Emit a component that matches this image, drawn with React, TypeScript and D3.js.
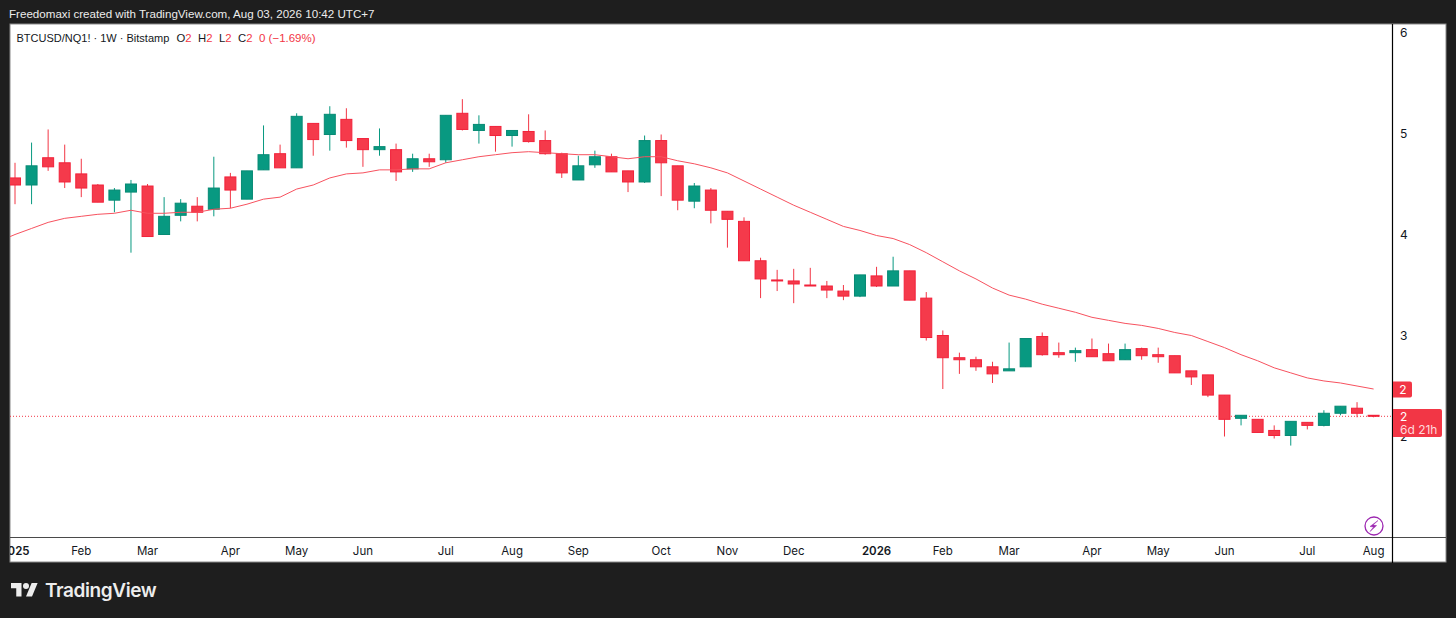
import { useEffect, useRef } from 'react'
import * as d3 from 'd3'

const width = 1456
const height = 618

// weekly candles, BTCUSD/NQ1!
const opens = [4.56, 4.49, 4.76, 4.71, 4.6, 4.49, 4.34, 4.42, 4.48, 4.0, 4.19, 4.28, 4.25, 4.57, 4.35, 4.64, 4.8, 4.66, 5.1, 4.99, 5.14, 4.95, 4.84, 4.84, 4.65, 4.75, 4.74, 5.2, 5.03, 5.07, 4.98, 5.02, 4.93, 4.8, 4.54, 4.69, 4.77, 4.63, 4.52, 4.93, 4.68, 4.33, 4.44, 4.23, 4.13, 3.74, 3.55, 3.54, 3.5, 3.49, 3.44, 3.39, 3.59, 3.49, 3.64, 3.37, 3.0, 2.78, 2.76, 2.69, 2.65, 2.69, 2.99, 2.83, 2.83, 2.86, 2.82, 2.76, 2.87, 2.81, 2.8, 2.65, 2.61, 2.41, 2.18, 2.17, 2.06, 2.01, 2.14, 2.11, 2.23, 2.28, 2.21]
const highs = [4.71, 4.91, 5.04, 4.89, 4.75, 4.5, 4.46, 4.54, 4.5, 4.37, 4.35, 4.37, 4.77, 4.61, 4.63, 5.08, 4.89, 5.2, 5.1, 5.27, 5.25, 4.95, 5.05, 4.9, 4.8, 4.8, 5.18, 5.34, 5.18, 5.07, 5.03, 5.19, 5.03, 4.81, 4.78, 4.83, 4.8, 4.63, 4.98, 4.99, 4.68, 4.51, 4.46, 4.23, 4.17, 3.77, 3.65, 3.66, 3.67, 3.54, 3.5, 3.6, 3.68, 3.78, 3.64, 3.43, 3.05, 2.83, 2.79, 2.74, 2.93, 2.97, 3.03, 2.93, 2.88, 2.97, 2.92, 2.92, 2.88, 2.88, 2.8, 2.65, 2.61, 2.41, 2.21, 2.17, 2.11, 2.15, 2.14, 2.26, 2.3, 2.34, 2.21]
const lows = [4.3, 4.3, 4.63, 4.46, 4.37, 4.32, 4.22, 3.82, 3.98, 4.0, 4.13, 4.13, 4.18, 4.26, 4.35, 4.64, 4.66, 4.66, 4.78, 4.83, 4.86, 4.67, 4.78, 4.53, 4.62, 4.67, 4.71, 5.03, 4.9, 4.82, 4.87, 4.91, 4.79, 4.56, 4.54, 4.66, 4.62, 4.42, 4.51, 4.38, 4.24, 4.26, 4.11, 3.87, 3.74, 3.37, 3.44, 3.32, 3.49, 3.37, 3.35, 3.38, 3.48, 3.49, 3.35, 2.95, 2.47, 2.62, 2.65, 2.53, 2.65, 2.69, 2.8, 2.78, 2.74, 2.79, 2.75, 2.76, 2.76, 2.73, 2.63, 2.51, 2.39, 2.0, 2.11, 2.04, 1.98, 1.91, 2.07, 2.1, 2.21, 2.19, 2.19]
const closes = [4.49, 4.68, 4.67, 4.52, 4.46, 4.32, 4.44, 4.5, 3.98, 4.18, 4.31, 4.22, 4.46, 4.44, 4.63, 4.79, 4.66, 5.17, 4.94, 5.19, 4.93, 4.84, 4.87, 4.62, 4.75, 4.72, 5.18, 5.04, 5.09, 4.98, 5.03, 4.92, 4.8, 4.61, 4.68, 4.77, 4.62, 4.52, 4.93, 4.71, 4.34, 4.48, 4.24, 4.15, 3.74, 3.56, 3.54, 3.51, 3.49, 3.45, 3.39, 3.6, 3.49, 3.64, 3.35, 2.98, 2.78, 2.76, 2.69, 2.62, 2.67, 2.97, 2.81, 2.81, 2.85, 2.79, 2.75, 2.86, 2.8, 2.79, 2.63, 2.59, 2.41, 2.17, 2.21, 2.04, 2.01, 2.15, 2.11, 2.23, 2.3, 2.23, 2.2]
// moving average starts one week before the first visible candle
const movingAvg = [3.93, 4.0, 4.06, 4.12, 4.16, 4.18, 4.2, 4.21, 4.24, 4.21, 4.21, 4.22, 4.22, 4.25, 4.26, 4.3, 4.35, 4.37, 4.45, 4.49, 4.56, 4.6, 4.61, 4.64, 4.64, 4.65, 4.65, 4.71, 4.74, 4.77, 4.79, 4.81, 4.82, 4.81, 4.8, 4.79, 4.79, 4.77, 4.75, 4.77, 4.77, 4.73, 4.7, 4.66, 4.61, 4.53, 4.45, 4.37, 4.29, 4.22, 4.15, 4.08, 4.04, 3.99, 3.96, 3.9, 3.82, 3.73, 3.64, 3.56, 3.47, 3.4, 3.36, 3.31, 3.27, 3.23, 3.18, 3.15, 3.12, 3.1, 3.07, 3.03, 3.0, 2.94, 2.88, 2.81, 2.75, 2.68, 2.63, 2.58, 2.55, 2.53, 2.5, 2.47]

// first candle of each month
const monthTicks: [number, string, boolean][] = [
  [0, '2025', true], [4, 'Feb', false], [8, 'Mar', false], [13, 'Apr', false], [17, 'May', false],
  [21, 'Jun', false], [26, 'Jul', false], [30, 'Aug', false], [34, 'Sep', false], [39, 'Oct', false],
  [43, 'Nov', false], [47, 'Dec', false], [52, '2026', true], [56, 'Feb', false], [60, 'Mar', false],
  [65, 'Apr', false], [69, 'May', false], [73, 'Jun', false], [78, 'Jul', false], [82, 'Aug', false],
]
const priceTicks = [2, 3, 4, 5, 6]

const UP = '#089981'
const DOWN = '#f23645'
const BG = '#1e1e1e'
const INK = '#131722'
const UI_FONT = '"Liberation Sans", Arial, sans-serif'
const TAG_FONT = '"Inter", sans-serif'

export default function App() {
  const svgRef = useRef<SVGSVGElement>(null)

  useEffect(() => {
    if (!svgRef.current) return
    const svg = d3.select(svgRef.current)
    svg.selectAll('*').remove()

    const panel = { left: 10, top: 24, right: 1446, bottom: 562 }
    const axisX = 1392
    const timeY = 537

    const x = d3.scaleLinear().domain([0, 82]).range([15, 1373.6])
    const y = d3.scaleLinear().domain([2, 6]).range([436.5, 32.5])

    svg.append('rect').attr('width', width).attr('height', height).attr('fill', BG)
    svg.append('rect')
      .attr('x', panel.left).attr('y', panel.top)
      .attr('width', panel.right - panel.left).attr('height', panel.bottom - panel.top)
      .attr('fill', '#fff').attr('stroke', '#8a8a8a').attr('stroke-width', 1)

    svg.append('defs').append('clipPath').attr('id', 'panel-clip')
      .append('rect').attr('x', panel.left).attr('y', panel.top)
      .attr('width', axisX - panel.left).attr('height', panel.bottom - panel.top)

    svg.append('text').attr('x', 9).attr('y', 18).attr('fill', '#ececec')
      .attr('font-family', UI_FONT).attr('font-size', 11.6)
      .text('Freedomaxi created with TradingView.com, Aug 03, 2026 10:42 UTC+7')

    const plot = svg.append('g').attr('clip-path', 'url(#panel-clip)')

    // last price line
    const lastY = y(closes[closes.length - 1])
    plot.append('line')
      .attr('x1', panel.left).attr('x2', axisX)
      .attr('y1', lastY).attr('y2', lastY)
      .attr('stroke', DOWN).attr('stroke-width', 1).attr('stroke-dasharray', '1 2')

    // candles
    const bodyW = 12
    const candles = plot.selectAll('g.candle').data(opens.map((o, i) => i)).enter().append('g')
    candles.append('line')
      .attr('x1', (i) => x(i)).attr('x2', (i) => x(i))
      .attr('y1', (i) => y(highs[i])).attr('y2', (i) => y(lows[i]))
      .attr('stroke', (i) => (closes[i] >= opens[i] ? UP : DOWN))
      .attr('stroke-width', 1)
    candles.append('rect')
      .attr('x', (i) => x(i) - bodyW / 2 + 0.5)
      .attr('y', (i) => y(Math.max(opens[i], closes[i])))
      .attr('width', bodyW - 1)
      .attr('height', (i) => Math.max(1, Math.abs(y(opens[i]) - y(closes[i]))))
      .attr('fill', (i) => (closes[i] >= opens[i] ? UP : '#f53a4b'))
      .attr('stroke', (i) => (closes[i] >= opens[i] ? '#078a74' : '#f2223a'))
      .attr('stroke-width', 1)

    // moving average
    const line = d3.line<number>().x((_, i) => x(i - 1)).y((d) => y(d))
    plot.append('path').attr('d', line(movingAvg)).attr('fill', 'none')
      .attr('stroke', '#f7525f').attr('stroke-width', 1)

    // price axis
    const priceAxis = d3.axisRight(y).tickValues(priceTicks).tickSize(0).tickPadding(8).tickFormat(d3.format('d') as any)
    const axisG = svg.append('g').attr('transform', `translate(${axisX},0)`).call(priceAxis)
    axisG.select('.domain').remove()
    axisG.selectAll('text').attr('font-family', TAG_FONT).attr('font-size', 12).attr('fill', INK)

    // frame lines
    svg.append('line').attr('x1', panel.left).attr('x2', panel.right).attr('y1', timeY + 0.5).attr('y2', timeY + 0.5)
      .attr('stroke', '#4a4a4a').attr('stroke-width', 1)
    svg.append('line').attr('x1', axisX + 0.5).attr('x2', axisX + 0.5).attr('y1', panel.top).attr('y2', panel.bottom + 1)
      .attr('stroke', '#000').attr('stroke-width', 1.2)

    // month labels
    const timeG = svg.append('g').attr('clip-path', 'url(#panel-clip)')
    timeG.selectAll('text').data(monthTicks).enter().append('text')
      .attr('x', (d) => x(d[0]))
      .attr('y', 555)
      .attr('text-anchor', 'middle')
      .attr('font-family', TAG_FONT)
      .attr('font-size', 11.5)
      .attr('font-weight', (d) => (d[2] ? 600 : 400))
      .attr('fill', INK)
      .text((d) => d[1])

    // legend
    const legend = svg.append('text').attr('x', 16.5).attr('y', 42)
      .attr('font-family', UI_FONT).attr('font-size', 11.3).attr('fill', INK)
    legend.append('tspan').attr('font-size', 11).text('BTCUSD/NQ1! · 1W · Bitstamp')
    ;[['O', 176.5], ['H', 198], ['L', 219], ['C', 238]].forEach(([k, px]) => {
      legend.append('tspan').attr('x', px as number).text(k as string)
      legend.append('tspan').attr('fill', DOWN).text('2')
    })
    legend.append('tspan').attr('x', 259).attr('fill', DOWN).attr('font-size', 11.5).text('0 (−1.69%)')

    // price tags
    const maY = y(movingAvg[movingAvg.length - 1])
    svg.append('path')
      .attr('d', `M${axisX + 1},${maY - 7.5}h17a2,2 0 0 1 2,2v12a2,2 0 0 1 -2,2h-17z`)
      .attr('fill', DOWN)
    svg.append('text').attr('x', axisX + 11).attr('y', maY + 5).attr('text-anchor', 'middle')
      .attr('font-family', TAG_FONT).attr('font-size', 12).attr('fill', '#fff').text('2')
    svg.append('path')
      .attr('d', `M${axisX + 1},409h47a2,2 0 0 1 2,2v24a2,2 0 0 1 -2,2h-47z`)
      .attr('fill', DOWN)
    svg.append('text').attr('x', axisX + 8).attr('y', 421).attr('font-family', TAG_FONT).attr('font-size', 12).attr('fill', '#fff').text('2')
    svg.append('text').attr('x', axisX + 8).attr('y', 433.5).attr('font-family', TAG_FONT).attr('font-size', 12).attr('fill', '#ffd9dc').text('6d 21h')

    // lightning badge
    const badge = svg.append('g').attr('transform', 'translate(1374,526)')
    badge.append('circle').attr('r', 9).attr('fill', '#fff').attr('stroke', '#9c27b0').attr('stroke-width', 1.3)
    badge.append('path').attr('d', 'M4,-5.5 L-1,-0.9 L2.6,-0.4 L-4,5.5 L-0.4,1 L-4,0.5 Z').attr('fill', '#9c27b0')
      .attr('stroke', '#9c27b0').attr('stroke-width', 0.5)

    // TradingView wordmark
    const logo = svg.append('g').attr('transform', 'translate(11,580) scale(0.75)').attr('fill', '#ededed')
    logo.append('path').attr('d', 'M14 22H7V11H0V4h14v18zM28 22h-8l7.5-18h8L28 22z')
    logo.append('circle').attr('cx', 20).attr('cy', 8).attr('r', 4)
    svg.append('text').attr('x', 45).attr('y', 597).attr('fill', '#ededed')
      .attr('font-family', TAG_FONT).attr('font-size', 19).attr('font-weight', 600)
      .attr('letter-spacing', -0.4)
      .text('TradingView')
  }, [])

  return (
    <svg
      ref={svgRef}
      width={width}
      height={height}
      style={{ display: 'block', position: 'absolute', left: 0, top: 0 }}
    />
  )
}
